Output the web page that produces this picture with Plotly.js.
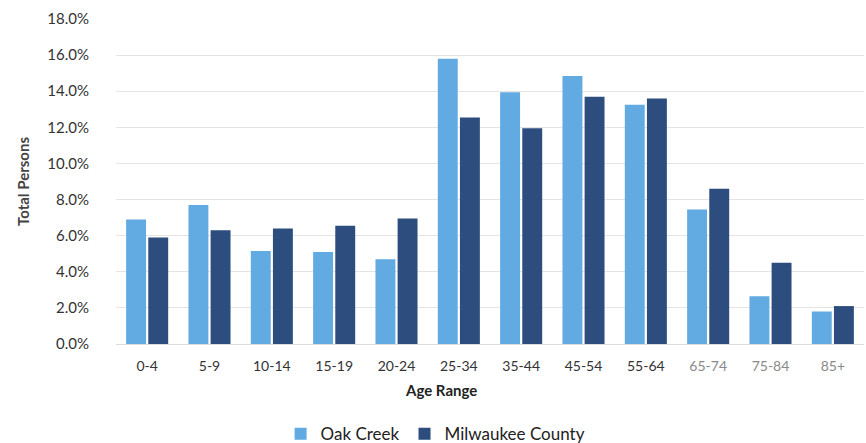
<!DOCTYPE html>
<html>
<head>
<meta charset="utf-8">
<script src="https://cdn.plot.ly/plotly-3.0.1.min.js"></script>
<style>html,body{margin:0;padding:0;background:#fff;}#chart{width:866px;height:443px;}</style>
</head>
<body>
<div id="chart"></div>
<script>
const categories = ["0-4","5-9","10-14","15-19","20-24","25-34","35-44","45-54","55-64","65-74","75-84","85+"];
const oakCreek = [6.9, 7.7, 5.15, 5.1, 4.7, 15.8, 13.95, 14.85, 13.25, 7.45, 2.65, 1.8];
const milwaukeeCounty = [5.9, 6.3, 6.4, 6.55, 6.95, 12.55, 11.95, 13.7, 13.6, 8.6, 4.5, 2.1];
const seriesNames = ["Oak Creek", "Milwaukee County"];
const yTickVals = [0,2,4,6,8,10,12,14,16,18];
const yTickText = ["0.0%","2.0%","4.0%","6.0%","8.0%","10.0%","12.0%","14.0%","16.0%","18.0%"];
const fadedCategories = ["65-74","75-84","85+"];

const font = "Lato, 'Open Sans', sans-serif";
const xTickText = categories.map(c => fadedCategories.includes(c) ? '<span style="fill:#8a8a8a">' + c + '</span>' : c);

const traces = [
  {type:'bar', name:seriesNames[0], x:categories, y:oakCreek, marker:{color:'#62aae2'}},
  {type:'bar', name:seriesNames[1], x:categories, y:milwaukeeCounty, marker:{color:'#2c4d7d'}}
];

const layout = {
  width:866, height:443,
  margin:{l:116, r:2, t:19, b:99},
  paper_bgcolor:'#fff', plot_bgcolor:'#fff',
  font:{family:font, color:'#333', size:14},
  barmode:'group', bargap:0.29, bargroupgap:0.1,
  showlegend:true,
  legend:{orientation:'h', xref:'container', yref:'container', x:0.503, xanchor:'center', y:0.02, yanchor:'middle', font:{size:17, color:'#222'}, itemwidth:30, traceorder:'normal'},
  xaxis:{type:'category', automargin:false, tickvals:categories, ticktext:xTickText, tickfont:{size:14, color:'#333'}, ticks:'', showline:false, showgrid:false, ticklabelstandoff:12, zeroline:false},
  yaxis:{range:[0,18], automargin:false, tickvals:yTickVals, ticktext:yTickText, tickfont:{size:15, color:'#333'}, showgrid:true, gridcolor:'#e4e4e4', gridwidth:1, zeroline:true, zerolinecolor:'#dcdcdc', showline:false, ticks:'', ticklabelstandoff:26,
    title:{text:'<b>Total Persons</b>', font:{size:15, color:'#444'}, standoff:14}},
  annotations:[{text:'<b>Age Range</b>', xref:'paper', yref:'paper', x:0.4345, y:-0.108, xanchor:'center', yanchor:'top', showarrow:false, font:{size:15, color:'#222', family:font}}]
};

Plotly.newPlot('chart', traces, layout, {displayModeBar:false, staticPlot:true});
</script>
</body>
</html>
